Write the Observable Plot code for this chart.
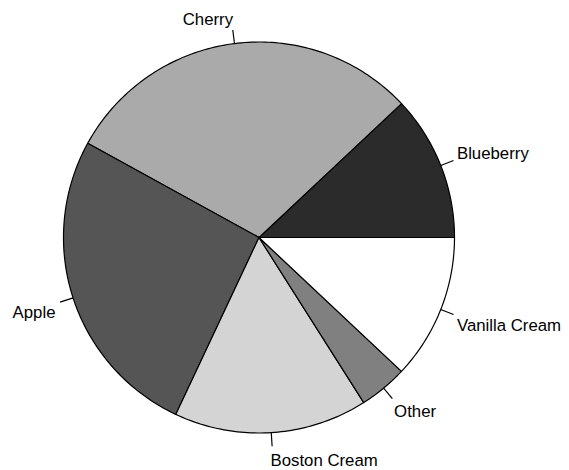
<!DOCTYPE html>
<html>
<head>
<meta charset="utf-8">
<script src="https://cdn.jsdelivr.net/npm/d3@7"></script>
<script src="https://cdn.jsdelivr.net/npm/@observablehq/plot@0.6"></script>
<style>
  html, body { margin: 0; padding: 0; background: #fff; }
  svg { display: block; }
</style>
</head>
<body>
<div id="chart"></div>
<script>
const categories = ["Blueberry", "Cherry", "Apple", "Boston Cream", "Other", "Vanilla Cream"];
const values = [0.12, 0.30, 0.26, 0.16, 0.04, 0.12];
const colors = ["#2b2b2b", "#aaaaaa", "#555555", "#d4d4d4", "#808080", "#ffffff"];

const total = d3.sum(values);
let acc = 0;
const slices = categories.map((name, i) => {
  const a0 = acc / total * 2 * Math.PI;
  acc += values[i];
  const a1 = acc / total * 2 * Math.PI;
  return {name, a0, a1, mid: (a0 + a1) / 2, color: colors[i]};
});

// polygon outlines for each slice (counter-clockwise from 3 o'clock)
const polyPts = [];
slices.forEach(s => {
  const n = Math.max(2, Math.ceil((s.a1 - s.a0) / (Math.PI / 180)));
  polyPts.push({name: s.name, x: 0, y: 0});
  for (let k = 0; k <= n; k++) {
    const a = s.a0 + (s.a1 - s.a0) * k / n;
    polyPts.push({name: s.name, x: Math.cos(a), y: Math.sin(a)});
  }
  polyPts.push({name: s.name, x: 0, y: 0});
});

const ticks = slices.map(s => ({
  x1: Math.cos(s.mid), y1: Math.sin(s.mid),
  x2: 1.07 * Math.cos(s.mid), y2: 1.07 * Math.sin(s.mid)
}));
const labels = slices.map(s => ({
  name: s.name, x: 1.1 * Math.cos(s.mid), y: 1.1 * Math.sin(s.mid),
  anchor: Math.cos(s.mid) < 0 ? "end" : "start",
  upper: Math.sin(s.mid) > 0
}));

const colorMap = Object.fromEntries(slices.map(s => [s.name, s.color]));

const textOpts = (anchor, upper) => ({
  x: "x", y: "y", text: "name", textAnchor: anchor, fill: "#000", fontSize: 16.8,
  dx: anchor === "start" ? -2 : 1,
  dy: upper ? -4.5 : 8.5
});

const plot = Plot.plot({
  width: 569,
  height: 470,
  style: {fontFamily: "Liberation Sans, Arial, sans-serif", fontSize: "16.8px", background: "#fff"},
  x: {domain: [-1, 1], range: [63, 454], axis: null},
  y: {domain: [-1, 1], range: [432.5, 41.5], axis: null},
  marks: [
    Plot.line(polyPts, {
      x: "x", y: "y", z: "name",
      fill: d => colorMap[d.name],
      stroke: "#000", strokeWidth: 1.2, strokeLinejoin: "round"
    }),
    Plot.link(ticks, {x1: "x1", y1: "y1", x2: "x2", y2: "y2", stroke: "#000", strokeWidth: 1.2}),
    ...["start", "end"].flatMap(anchor => [true, false].map(upper =>
      Plot.text(labels.filter(d => d.anchor === anchor && d.upper === upper), textOpts(anchor, upper))
    ))
  ]
});
document.getElementById("chart").appendChild(plot);
</script>
</body>
</html>
